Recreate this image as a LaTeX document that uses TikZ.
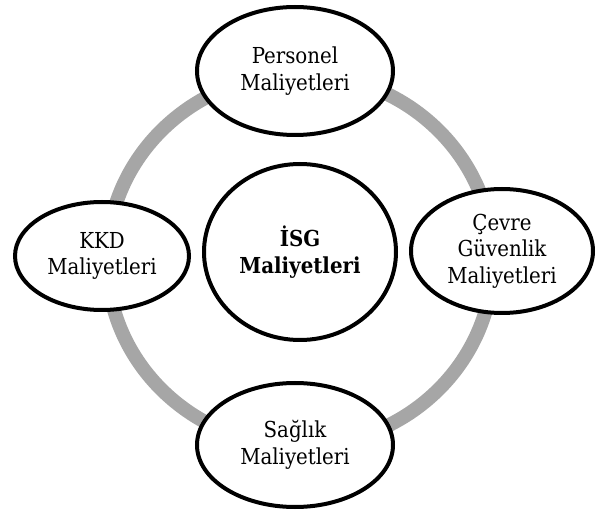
\documentclass[tikz,border=0pt]{standalone}
\usepackage{fontspec}
\setmainfont{DejaVu Serif Condensed}
\usepackage{xcolor}
\usepackage{tikz}
\usetikzlibrary{shapes.geometric}
\definecolor{halkagri}{HTML}{A6A6A6}

\begin{document}
\begin{tikzpicture}[x=1pt, y=-1pt,
  maliyet/.style={draw, ellipse, line width=4pt, fill=white, align=center,
    inner sep=0pt, font=\fontsize{22}{26.5}\selectfont},
  anamaliyet/.style={maliyet, font=\bfseries\fontsize{22}{26.5}\selectfont}]
\useasboundingbox (0,0) rectangle (598,513);

% Arkadaki gri halka:
\draw[halkagri, line width=14pt] (300,260) ellipse [x radius=193pt, y radius=186pt];

% Ortadaki ana daire:
\node[anamaliyet, minimum width=192pt, minimum height=176pt] (isg) at (300,252) {İSG\\Maliyetleri};

% Halka uzerindeki dort elips:
\node[maliyet, minimum width=196pt, minimum height=128pt] (personel) at (295,71) {Personel\\Maliyetleri};
\node[maliyet, minimum width=174pt, minimum height=108pt] (kkd) at (102,256) {KKD\\Maliyetleri};
\node[maliyet, minimum width=182pt, minimum height=124pt] (cevre) at (502,251) {Çevre\\Güvenlik\\Maliyetleri};
\node[maliyet, minimum width=196pt, minimum height=124pt] (saglik) at (295,445) {Sağlık\\Maliyetleri};
\end{tikzpicture}
\end{document}
